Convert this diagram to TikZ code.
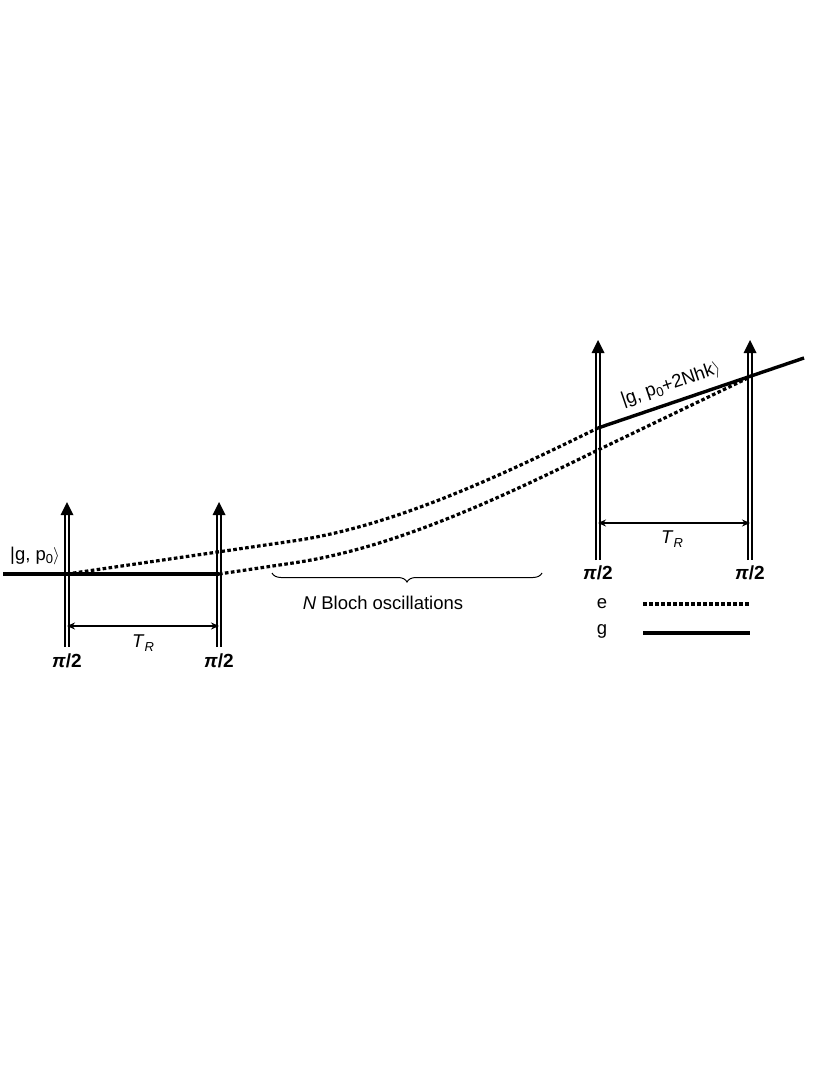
\documentclass[tikz,border=0pt]{standalone}
\usepackage{fontspec}
\setmainfont{Liberation Sans}
\usetikzlibrary{arrows.meta,decorations.pathreplacing,calc}
\begin{document}
\begin{tikzpicture}[x=1pt,y=-1pt,
  pulse/.style={double,line width=1.5pt,double distance=2.2pt},
  gline/.style={line width=3.4pt},
  eline/.style={line width=3.2pt,dash pattern=on 3.6pt off 2.4pt},
  span/.style={line width=1.2pt,{Stealth[length=8pt,width=7pt]}-{Stealth[length=8pt,width=7pt]}},
  lbl/.style={font=\fontsize{18.5}{22}\selectfont,inner sep=0pt},
  pilbl/.style={font=\fontsize{19}{22}\selectfont\bfseries,inner sep=0pt}]
\useasboundingbox (0,0) rectangle (830,1075);
% pulse coordinates
\coordinate (p1t) at (67,502);  \coordinate (p1b) at (67,647);
\coordinate (p2t) at (219,502); \coordinate (p2b) at (219,647);
\coordinate (p3t) at (598,340); \coordinate (p3b) at (598,560);
\coordinate (p4t) at (750,340); \coordinate (p4b) at (750,560);
% pulses
\foreach \p in {p1,p2,p3,p4}{
  \draw[pulse] (\p b) -- ($(\p t)+(0,12)$);
  \fill ($(\p t)+(-6.5,13)$) -- (\p t) -- ($(\p t)+(6.5,13)$) -- cycle;
}
% trajectories
\coordinate (g0) at (3,574);
\coordinate (a) at (67,574);
\coordinate (b) at (219,574);
\coordinate (u1) at (293,541);
\coordinate (u2) at (598,428);
\coordinate (l1) at (293,563);
\coordinate (l2) at (598,450);
\coordinate (c) at (750,377);
\coordinate (gend) at (804,358);
\draw[gline] (g0) -- (b);
\draw[eline] (a) -- (u1) .. controls (393,526.5) and (498,477) .. (u2);
\draw[eline] (b) -- (l1) .. controls (393,548.5) and (498,499) .. (l2) -- (c);
\draw[gline] (u2) -- (gend);
% spans
\draw[span] (67,626) -- (219,626);
\draw[span] (598,523) -- (750,523);
\node[lbl] (tr1) at (143,643) {\textit{T}\raisebox{-0.4ex}{\fontsize{13}{14}\selectfont\textit{R}}};
\node[lbl] (tr2) at (672,539) {\textit{T}\raisebox{-0.4ex}{\fontsize{13}{14}\selectfont\textit{R}}};
% pi/2 labels
\node[pilbl] (pi1) at (67,661) {\textit{π}/2};
\node[pilbl] (pi2) at (219,661) {\textit{π}/2};
\node[pilbl] (pi3) at (598,573) {\textit{π}/2};
\node[pilbl] (pi4) at (750,573) {\textit{π}/2};
% state labels
\node[lbl] (s0) at (35,556) {|g, p\raisebox{-0.3ex}{\fontsize{13}{14}\selectfont 0}$\rangle$};
\node[lbl,rotate=18.8] (s1) at (671,385) {|g, p\raisebox{-0.3ex}{\fontsize{13}{14}\selectfont 0}+2Nhk$\rangle$};
% brace
\draw[line width=1pt,decorate,decoration={brace,amplitude=9pt,mirror}] (272,573) -- (542,573);
\node[lbl] (bloch) at (383,603) {\textit{N} Bloch oscillations};
% legend
\node[lbl] (le) at (602,604) {e};
\node[lbl] (lg) at (602,631) {g};
\coordinate (le1) at (643,604); \coordinate (le2) at (750,604);
\coordinate (lg1) at (643,633); \coordinate (lg2) at (750,633);
\draw[eline] (le1) -- (le2);
\draw[gline] (lg1) -- (lg2);
\end{tikzpicture}
\end{document}
